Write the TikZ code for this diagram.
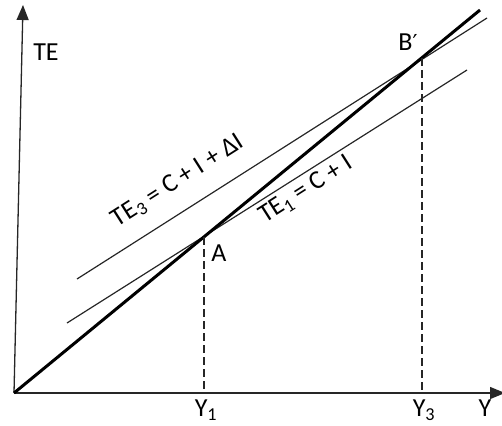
\documentclass[tikz,border=0pt]{standalone}
\usepackage{fontspec}
\setmainfont{Carlito}
\newfontfamily\primefont{DejaVu Sans}
\usetikzlibrary{arrows.meta}
\begin{document}
\begin{tikzpicture}[x=1pt,y=-1pt,
  axis/.style={draw=black!85,line width=1.3pt,-{Triangle[length=15pt,width=12pt]}},
  thinline/.style={draw=black!85,line width=1.2pt},
  thickline/.style={draw=black,line width=3pt},
  guide/.style={draw=black!85,line width=1.2pt,dash pattern=on 8pt off 4pt},
  lbl/.style={font=\fontsize{26}{30}\selectfont,inner sep=0pt}]
\useasboundingbox (0,0) rectangle (502,425);
\coordinate (O) at (14,393);
\coordinate (ytop) at (23,5);
\coordinate (xend) at (505,393);
\draw[axis] (O) -- (ytop);
\draw[axis] (O) -- (xend);
\coordinate (P) at (480,10);
\coordinate (A) at (204,237);
\coordinate (B) at (422,58);
\coordinate (t1s) at (67,323);
\coordinate (t1e) at (467,70);
\coordinate (t3s) at (77,279);
\coordinate (t3e) at (487,18);
\draw[thinline] (t1s) -- (t1e);
\draw[thinline] (t3s) -- (t3e);
\draw[thickline] (O) -- (P);
\draw[guide] (A) -- (A |- O);
\draw[guide] (B) -- (B |- O);
\node[lbl] (teaxis) at (46,52) {TE};
\node[lbl] (yaxis) at (485,408) {Y};
\node[lbl] (y1) at (206,410) {Y\textsubscript{1}};
\node[lbl] (y3) at (424,410) {Y\textsubscript{3}};
\node[lbl] (alabel) at (219,253) {A};
\node[lbl] (blabel) at (408,42) {B{\primefont\fontsize{22}{26}\selectfont ′}};
\node[lbl,rotate=32.5] (te3) at (178,181) {TE\textsubscript{3} = C + I + ΔI};
\node[lbl,rotate=32.5] (te1) at (306,190) {TE\textsubscript{1} = C + I};
\end{tikzpicture}
\end{document}
